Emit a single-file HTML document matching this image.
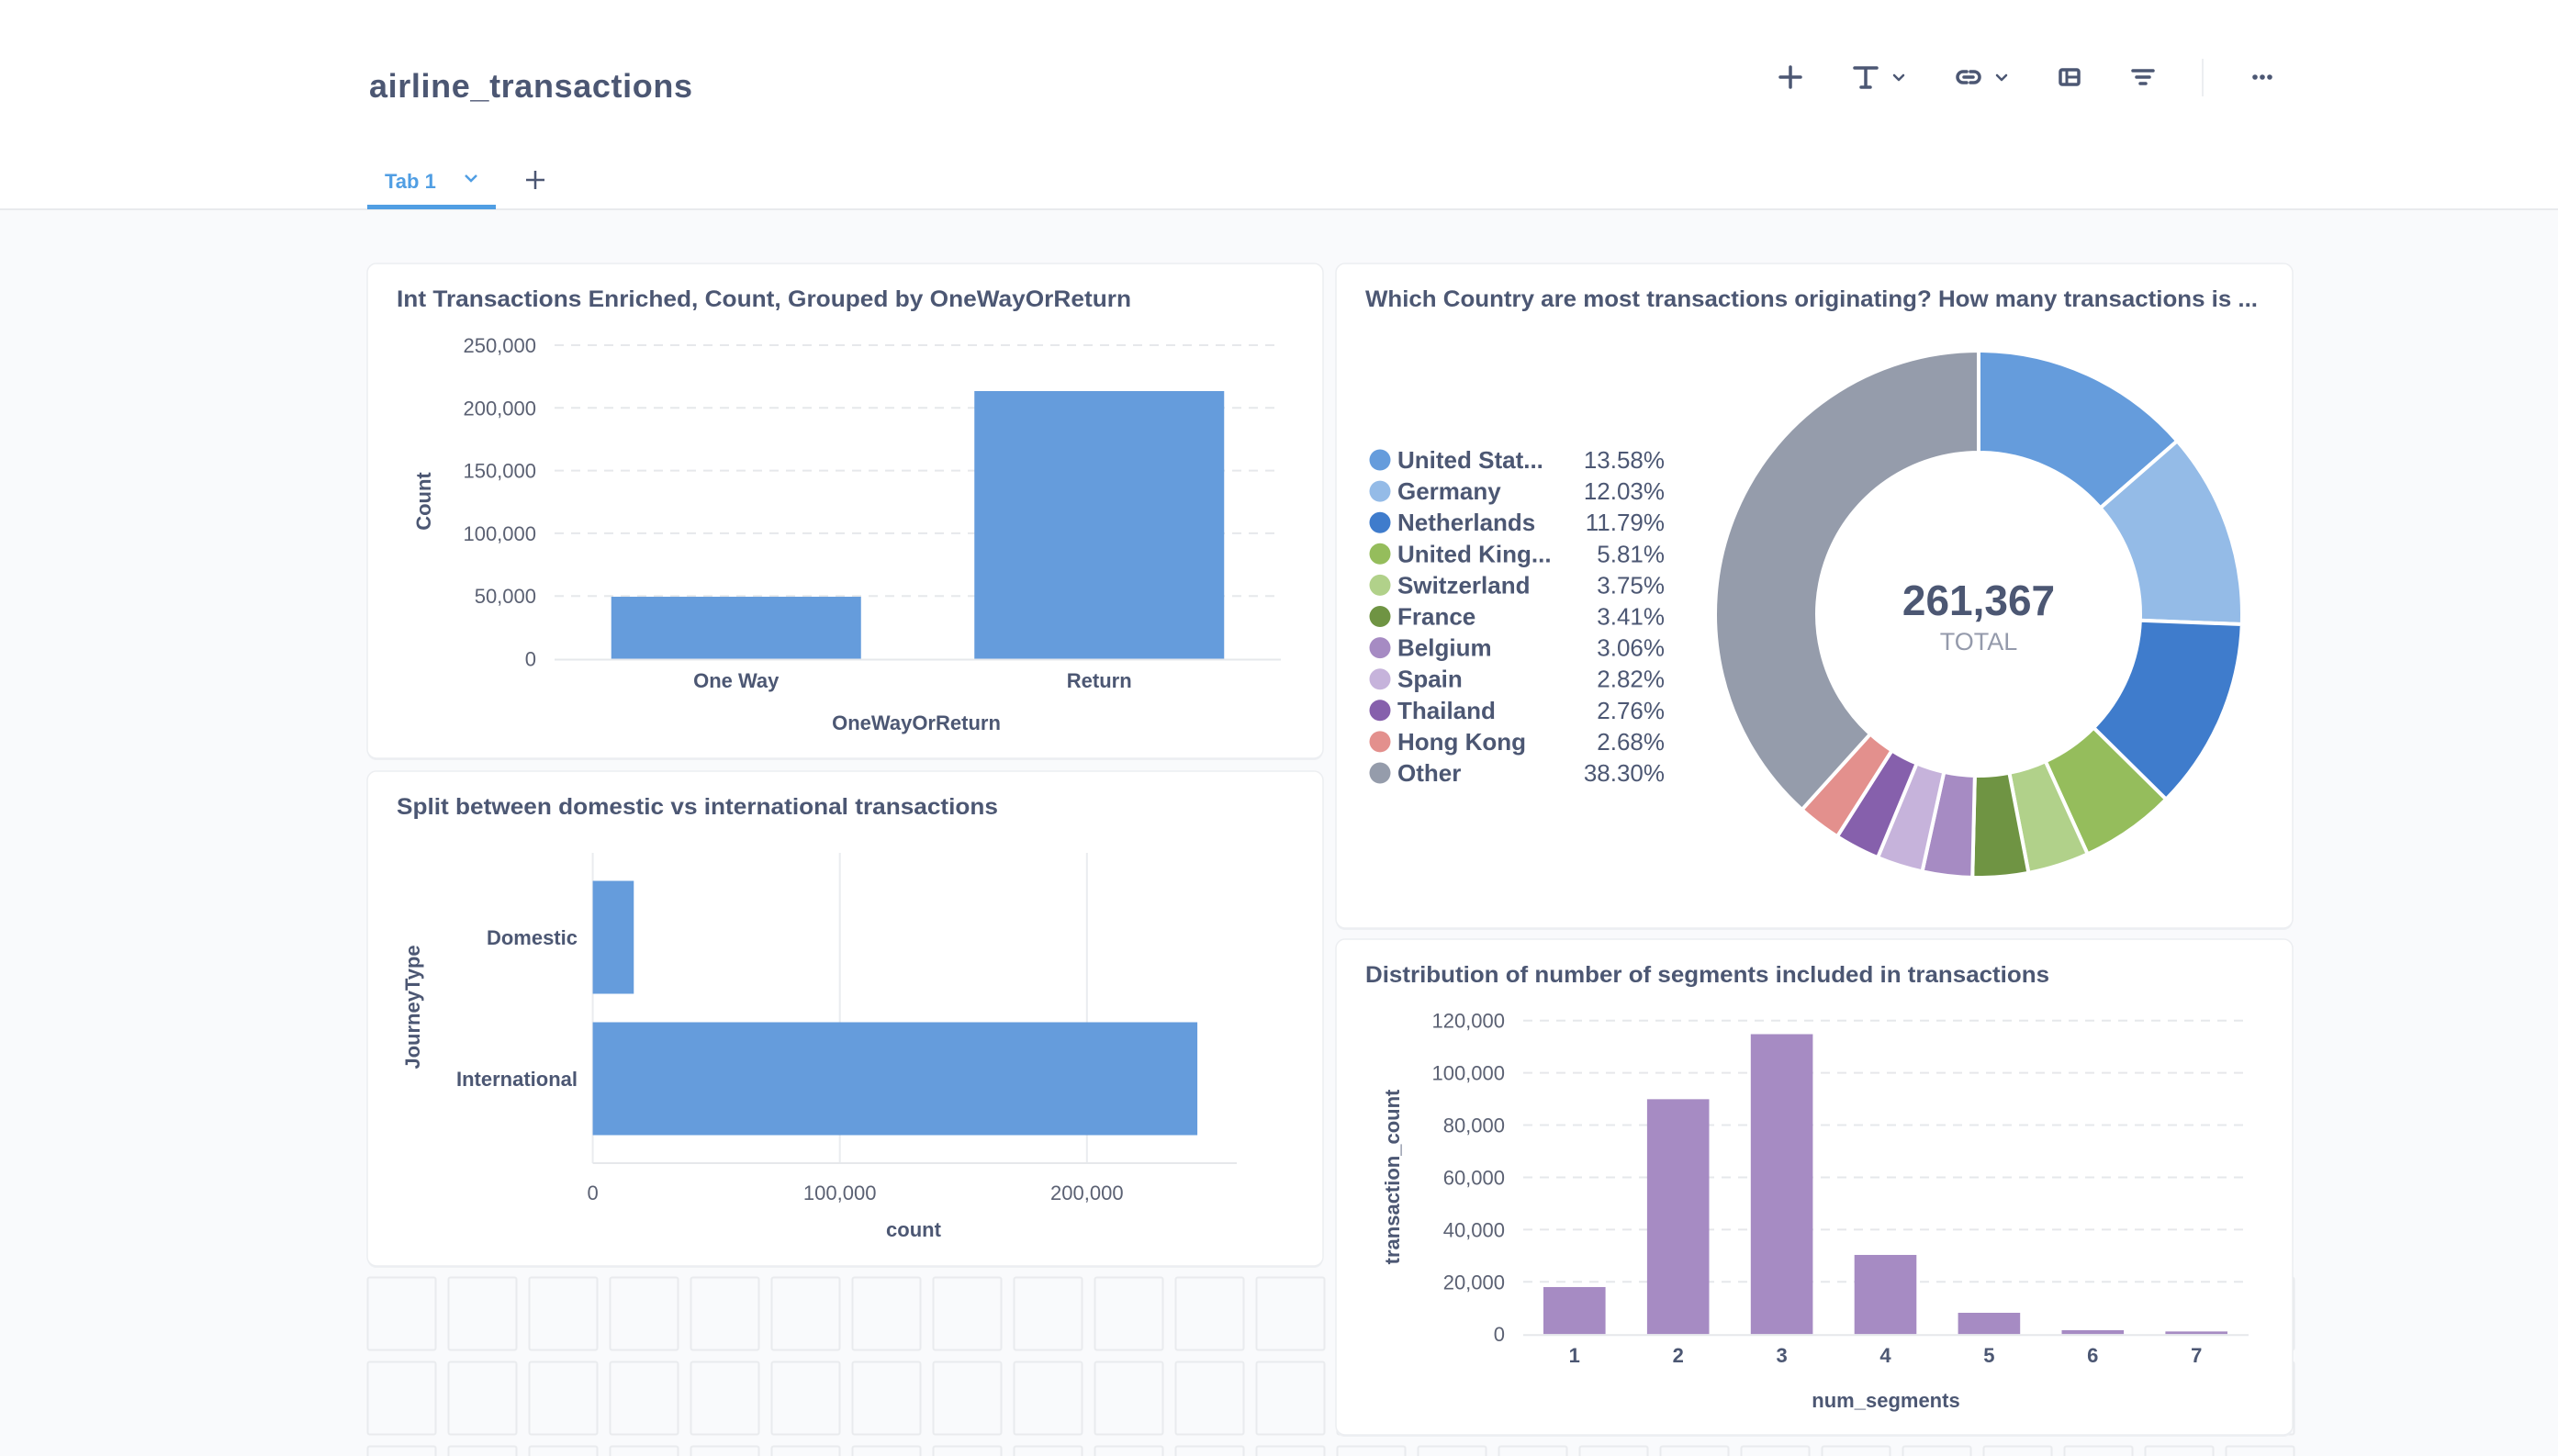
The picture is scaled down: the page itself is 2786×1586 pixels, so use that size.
<!DOCTYPE html>
<html><head><meta charset="utf-8"><style>
html,body{margin:0;padding:0;width:2786px;height:1586px;overflow:hidden;background:#f9fafc}
svg{display:block;font-family:"Liberation Sans",sans-serif}
</style></head><body>
<svg id="root" width="2786" height="1586" viewBox="0 0 2786 1586" xmlns="http://www.w3.org/2000/svg">
<rect x="0" y="0" width="2786" height="228" fill="#ffffff"/>
<rect x="0" y="227" width="2786" height="2" fill="#e8eaed"/>
<text x="402" y="106" font-size="36" font-weight="bold" fill="#4c5773" textLength="352">airline_transactions</text>
<g stroke="#4c5773" stroke-width="3.5" fill="none" stroke-linecap="round" stroke-linejoin="round">
 <g><path d="M1950 73v22M1939 84h22"/></g>
 <g><path d="M2020 74h24M2032 74v20M2027 95h10"/><path d="M2063 82l5 5 5-5" stroke-width="2.5"/></g>
 <g><path d="M2142 78h-4a6 6 0 0 0 0 12h4M2146 78h4a6 6 0 0 1 0 12h-4M2139 84h10"/><path d="M2175 82l5 5 5-5" stroke-width="2.5"/></g>
 <g><rect x="2244" y="76" width="20" height="16" rx="2"/><path d="M2251 76v16M2251 84h13" stroke-width="3"/></g>
 <g><path d="M2323 77h22M2327 84h14M2331 91h6"/></g>
</g>
<rect x="2398" y="64" width="2" height="41" fill="#eceef1"/>
<g fill="#4c5773"><circle cx="2456" cy="84" r="2.8"/><circle cx="2464" cy="84" r="2.8"/><circle cx="2472" cy="84" r="2.8"/></g>
<text x="419" y="205" font-size="22" font-weight="bold" fill="#509ee3">Tab 1</text>
<path d="M507 191l6 6 6-6" stroke="#509ee3" stroke-width="2.5" fill="none"/>
<path d="M583 186v20M573 196h20" stroke="#4c5773" stroke-width="2.5"/>
<rect x="400" y="223" width="140" height="5" fill="#509ee3"/>
<g id="gridcells"></g>
<g id="cards"></g>
</svg>
<script>
// ---- data ----
const owCategories = ["One Way", "Return"];
const owValues = [49400, 213400];
const owTicks = [0, 50000, 100000, 150000, 200000, 250000];

const jtCategories = ["Domestic", "International"];
const jtValues = [16600, 244700];
const jtTicks = [0, 100000, 200000];

const segCategories = ["1", "2", "3", "4", "5", "6", "7"];
const segValues = [18000, 89900, 114800, 30300, 8150, 1500, 1000];
const segTicks = [0, 20000, 40000, 60000, 80000, 100000, 120000];

const pieLabels = ["United Stat...", "Germany", "Netherlands", "United King...", "Switzerland", "France", "Belgium", "Spain", "Thailand", "Hong Kong", "Other"];
const piePercents = [13.58, 12.03, 11.79, 5.81, 3.75, 3.41, 3.06, 2.82, 2.76, 2.68, 38.30];
const pieTotal = 261367;

const NS = "http://www.w3.org/2000/svg";
const root = document.getElementById("cards");
const TXT = "#4c5773", TICK = "#5b6173";
function mk(tag, attrs, parent) {
  const e = document.createElementNS(NS, tag);
  for (const k in attrs) e.setAttribute(k, attrs[k]);
  (parent || root).appendChild(e);
  return e;
}
function txt(str, attrs, parent) { const t = mk("text", attrs, parent); t.textContent = str; return t; }
const fmt = v => v.toLocaleString("en-US");

// grid cells
const gc = document.getElementById("gridcells");
for (let r = 0; r < 3; r++) for (let c = 0; c < 24; c++) {
  const cell = mk("rect", {x: 400.5 + c * 88, y: 1391.5 + r * 92, width: 74, height: 79, fill: "#f9fafc", stroke: "#e9ebee", "stroke-width": 2, rx: 2}, gc);
  
  
}

function card(x, y, w, h, title, titleW, name) {
  const g = mk("g", {});
  
  
  mk("rect", {x: x, y: y + 2, width: w, height: h, rx: 10, fill: "#eef0f3"}, g);
  const r = mk("rect", {x: x, y: y, width: w, height: h, rx: 10, fill: "#fff", stroke: "#eceef1", "stroke-width": 1.5}, g);
  
  
  const t = txt(title, {x: x + 32, y: y + 47, "font-size": 25, "font-weight": "bold", fill: TXT, textLength: titleW, lengthAdjust: "spacingAndGlyphs"}, g);
  
  
  return g;
}

// ---- Chart 1: OneWayOrReturn ----
(function () {
  const g = card(400, 287, 1041, 539, "Int Transactions Enriched, Count, Grouped by OneWayOrReturn", 800, "oneway-return-card");
  const y0 = 717.5, yTop = 376, vMax = 250000;
  const ys = v => y0 - (v / vMax) * (y0 - yTop);
  const xL = 604, xR = 1395, band = (xR - xL) / owCategories.length, bw = 272;
  owTicks.forEach(t => {
    if (t > 0) {
      const l = mk("line", {x1: xL, x2: xR, y1: ys(t), y2: ys(t), stroke: "#e6e8eb", "stroke-width": 2, "stroke-dasharray": "10 8"}, g);
      
      
    }
    const lb = txt(fmt(t), {x: 584, y: ys(t) + 8, "font-size": 22, fill: TICK, "text-anchor": "end"}, g);
    
    
  });
  owCategories.forEach((c, i) => {
    const cx = xL + band * (i + 0.5);
    const b = mk("rect", {x: cx - bw / 2, y: ys(owValues[i]), width: bw, height: y0 - ys(owValues[i]), fill: "#659cdc"}, g);
    
    
    const lb = txt(c, {x: cx, y: 749, "font-size": 22, "font-weight": "bold", fill: TXT, "text-anchor": "middle"}, g);
    
    
  });
  const base = mk("line", {x1: xL, x2: xR, y1: y0 + 1, y2: y0 + 1, stroke: "#e6e8eb", "stroke-width": 2}, g);
  
  
  const xt = txt("OneWayOrReturn", {x: 998, y: 795, "font-size": 22, "font-weight": "bold", fill: TXT, "text-anchor": "middle"}, g);
  
  
  const yt = txt("Count", {x: 0, y: 0, "font-size": 22, "font-weight": "bold", fill: TXT, "text-anchor": "middle", transform: "translate(469 546) rotate(-90)"}, g);
  
  
})();

// ---- Chart 2: donut ----
(function () {
  const g = card(1455, 287, 1042, 724, "Which Country are most transactions originating? How many transactions is ...", 972, "country-donut-card");
  const colors = ["#659cdc", "#94bbe7", "#3f7ccc", "#95bd5c", "#b1d18a", "#6f9443", "#a68bc3", "#c6b3db", "#8660ac", "#e3908d", "#959cab"];
  const cx = 2155, cy = 669, R = 287, r = 176;
  const sum = piePercents.reduce((a, b) => a + b, 0);
  let a0 = 0;
  piePercents.forEach((p, i) => {
    const a1 = a0 + (p / sum) * Math.PI * 2;
    const pt = (rad, a) => [cx + rad * Math.sin(a), cy - rad * Math.cos(a)];
    const large = a1 - a0 > Math.PI ? 1 : 0;
    const [x1, y1] = pt(R, a0), [x2, y2] = pt(R, a1), [x3, y3] = pt(r, a1), [x4, y4] = pt(r, a0);
    const s = mk("path", {d: `M${x1} ${y1}A${R} ${R} 0 ${large} 1 ${x2} ${y2}L${x3} ${y3}A${r} ${r} 0 ${large} 0 ${x4} ${y4}Z`, fill: colors[i], stroke: "#fff", "stroke-width": 4}, g);
    
    
    a0 = a1;
    const ly = 501 + i * 34.1;
    const dot = mk("circle", {cx: 1503, cy: ly, r: 11.5, fill: colors[i]}, g);
    
    
    const ln = txt(pieLabels[i], {x: 1522, y: ly + 9, "font-size": 26, "font-weight": "bold", fill: TXT}, g);
    
    
    const lp = txt(p.toFixed(2) + "%", {x: 1813, y: ly + 9, "font-size": 26, fill: TXT, "text-anchor": "end"}, g);
    
    
  });
  const tv = txt(fmt(pieTotal), {x: cx, y: 670, "font-size": 46, "font-weight": "bold", fill: TXT, "text-anchor": "middle"}, g);
  
  
  const tl = txt("TOTAL", {x: cx, y: 708, "font-size": 27, fill: "#949aab", "text-anchor": "middle"}, g);
  
  
})();

// ---- Chart 3: JourneyType (horizontal) ----
(function () {
  const g = card(400, 840, 1041, 539, "Split between domestic vs international transactions", 655, "journey-type-card");
  const x0 = 645.6, per = 269.1 / 100000;
  const xs = v => x0 + v * per;
  const yT = 929, yB = 1267;
  jtTicks.forEach(t => {
    const l = mk("line", {x1: xs(t), x2: xs(t), y1: yT, y2: yB, stroke: "#eaecef", "stroke-width": 2}, g);
    
    
    const lb = txt(fmt(t), {x: xs(t), y: 1307, "font-size": 22, fill: TICK, "text-anchor": "middle"}, g);
    
    
  });
  const base = mk("line", {x1: x0, x2: 1347, y1: yB, y2: yB, stroke: "#e6e8eb", "stroke-width": 2}, g);
  
  
  const bandTop = 944, band = 154, bh = 123;
  jtCategories.forEach((c, i) => {
    const cy = bandTop + band * (i + 0.5);
    const b = mk("rect", {x: x0, y: cy - bh / 2, width: xs(jtValues[i]) - x0, height: bh, fill: "#659cdc"}, g);
    
    
    const lb = txt(c, {x: 629, y: cy + 8, "font-size": 22, "font-weight": "bold", fill: TXT, "text-anchor": "end"}, g);
    
    
  });
  const xt = txt("count", {x: 995, y: 1347, "font-size": 22, "font-weight": "bold", fill: TXT, "text-anchor": "middle"}, g);
  
  
  const yt = txt("JourneyType", {x: 0, y: 0, "font-size": 22, "font-weight": "bold", fill: TXT, "text-anchor": "middle", transform: "translate(457 1097) rotate(-90)"}, g);
  
  
})();

// ---- Chart 4: segments ----
(function () {
  const g = card(1455, 1023, 1042, 540, "Distribution of number of segments included in transactions", 745, "segments-card");
  const y0 = 1453.2, yTop = 1111.7, vMax = 120000;
  const ys = v => y0 - (v / vMax) * (y0 - yTop);
  const xL = 1659, xR = 2449, step = 112.9, bw = 67.6, first = 1681 + bw / 2;
  segTicks.forEach(t => {
    if (t > 0) {
      const l = mk("line", {x1: xL, x2: xR, y1: ys(t), y2: ys(t), stroke: "#e6e8eb", "stroke-width": 2, "stroke-dasharray": "10 8"}, g);
      
      
    }
    const lb = txt(fmt(t), {x: 1639, y: ys(t) + 8, "font-size": 22, fill: TICK, "text-anchor": "end"}, g);
    
    
  });
  segCategories.forEach((c, i) => {
    const cx = first + step * i;
    const b = mk("rect", {x: cx - bw / 2, y: ys(segValues[i]), width: bw, height: y0 - ys(segValues[i]), fill: "#a68bc3"}, g);
    
    
    const lb = txt(c, {x: cx, y: 1484, "font-size": 22, "font-weight": "bold", fill: TXT, "text-anchor": "middle"}, g);
    
    
  });
  const base = mk("line", {x1: xL, x2: xR, y1: y0 + 1, y2: y0 + 1, stroke: "#e6e8eb", "stroke-width": 2}, g);
  
  
  const xt = txt("num_segments", {x: 2054, y: 1533, "font-size": 22, "font-weight": "bold", fill: TXT, "text-anchor": "middle"}, g);
  
  
  const yt = txt("transaction_count", {x: 0, y: 0, "font-size": 22, "font-weight": "bold", fill: TXT, "text-anchor": "middle", transform: "translate(1524 1282) rotate(-90)"}, g);
  
  
})();
</script>
</body></html>
